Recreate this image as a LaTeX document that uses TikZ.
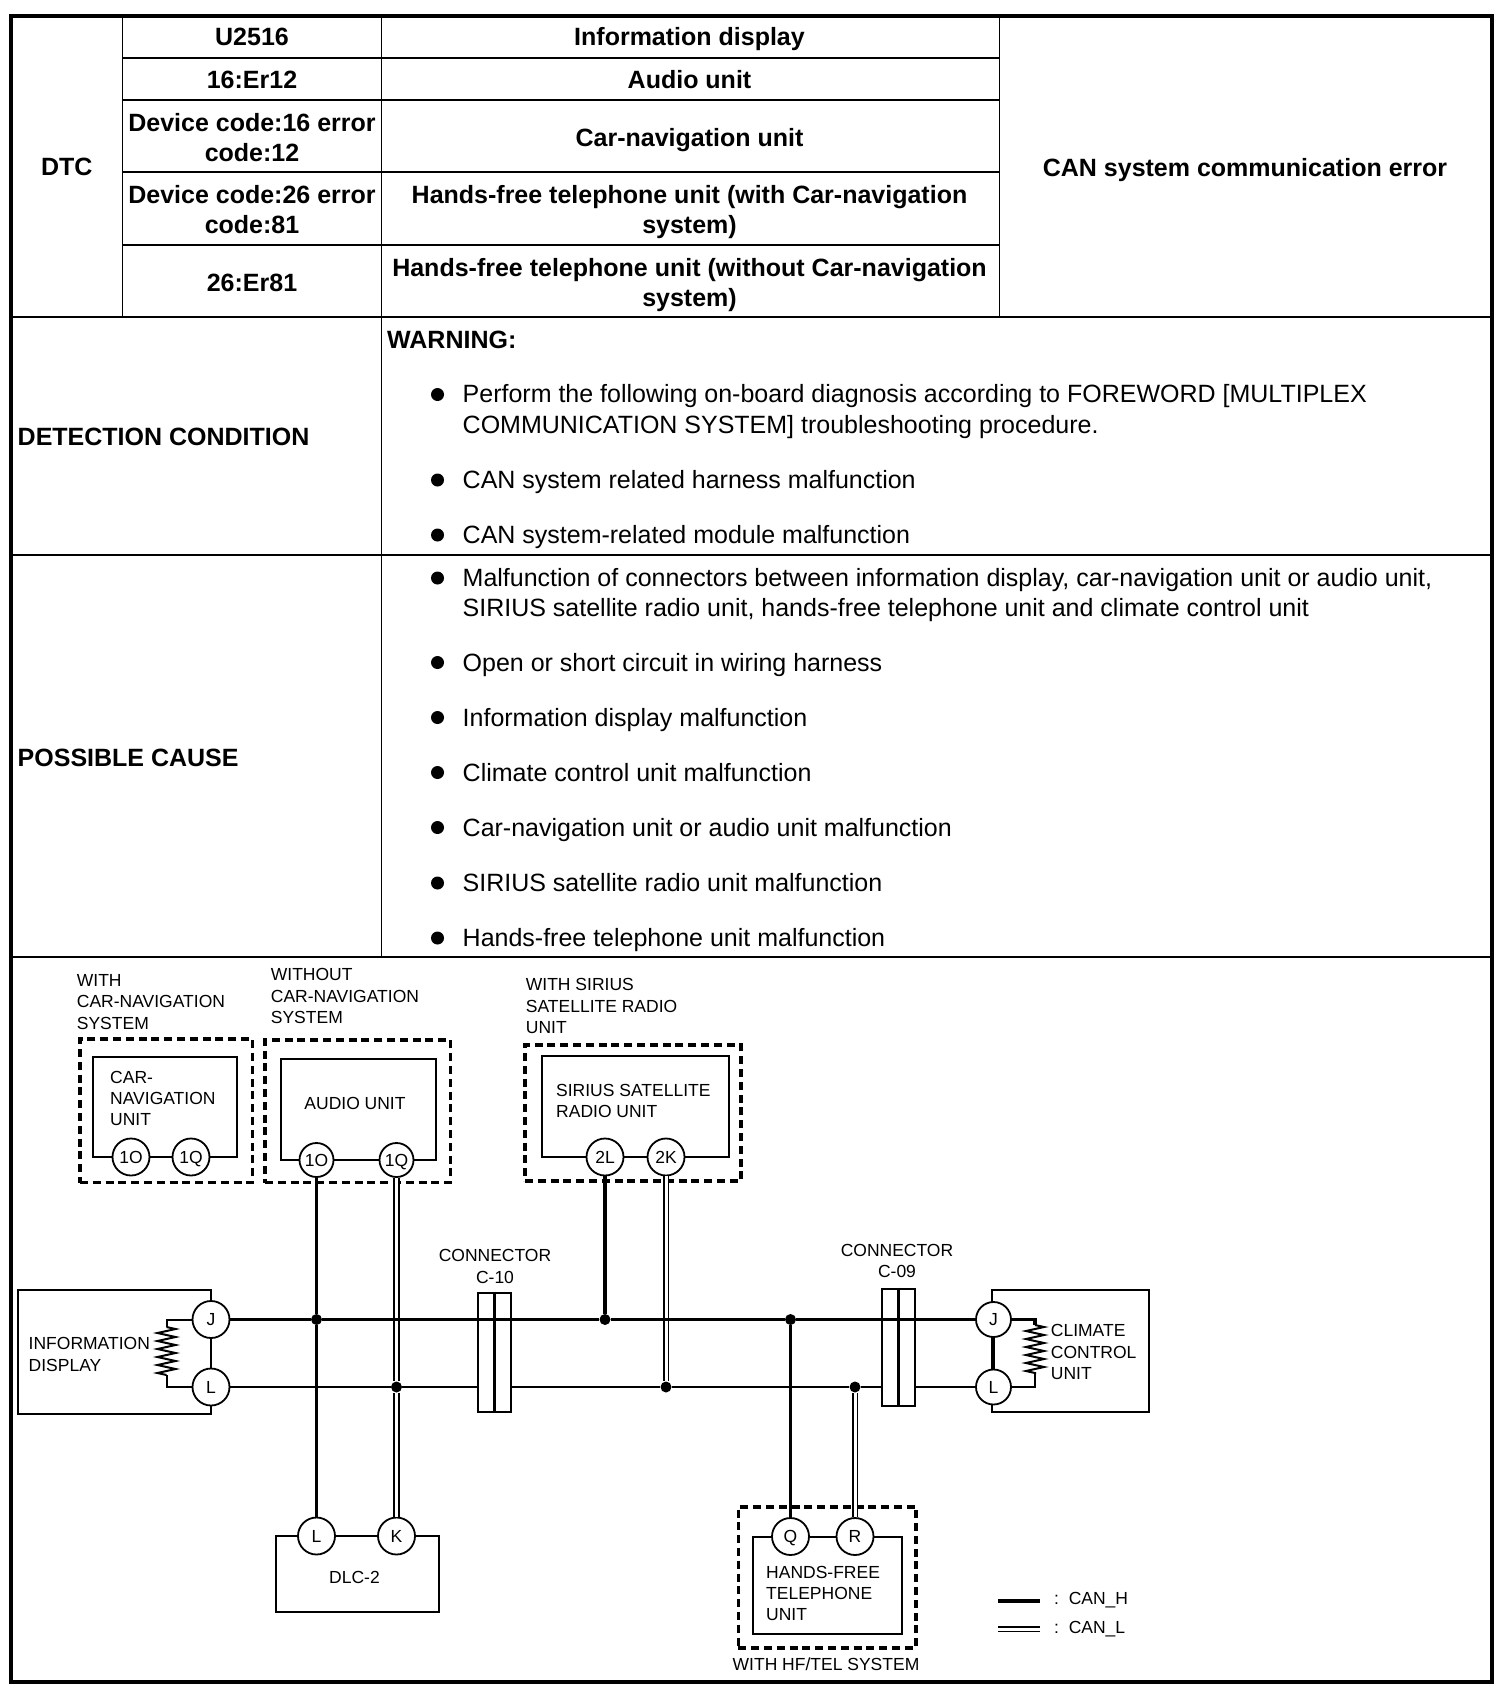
\documentclass[tikz,border=0pt]{standalone}
\usepackage{fontspec}
\setmainfont{Liberation Sans}
\usetikzlibrary{decorations.pathmorphing}

\tikzset{
	cell/.style={inner sep=0pt,font=\fontsize{25}{30}\selectfont\bfseries,align=center},
	oneline/.style={text height=17.5pt,text depth=0pt},
	oneshort/.style={text height=12.5pt,text depth=0pt},
	head/.style={inner sep=0pt,font=\fontsize{25}{30}\selectfont\bfseries,anchor=west,oneline},
	item/.style={inner sep=0pt,font=\fontsize{25}{30.3}\selectfont,anchor=west,align=left},
	dot/.style={circle,fill,inner sep=0pt,minimum size=13pt},
	tag/.style={inner sep=0pt,font=\fontsize{17.5}{21.3}\selectfont,anchor=west,align=left},
	tagc/.style={inner sep=0pt,font=\fontsize{17.5}{21.3}\selectfont,align=center},
	pin/.style={circle,draw,line width=1.8pt,fill=white,minimum size=37pt,inner sep=0pt,font=\fontsize{17.5}{20}\selectfont,oneshort},
	joint/.style={circle,fill,inner sep=0pt,minimum size=11pt},
	unitbox/.style={draw,line width=2pt},
	dashbox/.style={draw,line width=3.6pt,dash pattern=on 8pt off 4.8pt},
	canh/.style={line width=3.6pt},
	canl/.style={line width=1.8pt,double,double distance=3pt},
	thin wire/.style={line width=2pt},
	plug/.style={rectangle,draw,fill=white,line width=2.6pt,inner sep=0pt,minimum width=33pt},
	resistor/.style={line width=2pt,decorate,decoration={zigzag,segment length=8pt,amplitude=9pt}}
}

\begin{document}
\begin{tikzpicture}[x=1pt,y=-1pt]
	\useasboundingbox (0,0) rectangle (1502,1694);

	% table rules
	\draw[line width=1.5pt] (122.5,16) -- (122.5,317);
	\draw[line width=1.5pt] (381.5,16) -- (381.5,957);
	\draw[line width=1.5pt] (999.5,16) -- (999.5,317);
	\draw[line width=1.5pt] (122.5,58) -- (999.5,58);
	\draw[line width=1.5pt] (122.5,100) -- (999.5,100);
	\draw[line width=1.5pt] (122.5,172) -- (999.5,172);
	\draw[line width=1.5pt] (122.5,245) -- (999.5,245);
	\draw[line width=1.5pt] (11,317) -- (1491.5,317);
	\draw[line width=1.5pt] (11,555) -- (1491.5,555);
	\draw[line width=1.5pt] (11,957) -- (1491.5,957);
	\draw[line width=4pt] (11,16) rectangle (1491.5,1682);

	\node[cell,oneline] (dtc) at (66.7,167) {DTC};
	\node[cell,oneline] (code1) at (252,37) {U2516};
	\node[cell,oneline] (code2) at (252,80) {16:Er12};
	\node[cell] (code3) at (252,137.5) {Device code:16 error\\code:12};
	\node[cell] (code4) at (252,209.5) {Device code:26 error\\code:81};
	\node[cell,oneline] (code5) at (252,283) {26:Er81};
	\node[cell,oneline] (unit1) at (689.5,37) {Information display};
	\node[cell,oneline] (unit2) at (689.5,80) {Audio unit};
	\node[cell,oneline] (unit3) at (689.5,137.5) {Car-navigation unit};
	\node[cell] (unit4) at (689.5,212) {Hands-free telephone unit (with Car-navigation\\system)};
	\node[cell] (unit5) at (689.5,285) {Hands-free telephone unit (without Car-navigation\\system)};
	\node[cell,oneline] (error) at (1245,167.5) {CAN system communication error};

	\node[head] (detect) at (17.5,437) {DETECTION CONDITION};
	\node[head] (cause) at (17.5,757.5) {POSSIBLE CAUSE};
	\node[head] (warn) at (387,339.5) {WARNING:};

	\foreach \ypos/\dotpos/\txt [count=\i] in {
		411.5/394.5/{Perform the following on-board diagnosis according to FOREWORD [MULTIPLEX\\COMMUNICATION SYSTEM] troubleshooting procedure.},
		595/578/{Malfunction of connectors between information display, car-navigation unit or audio unit,\\SIRIUS satellite radio unit, hands-free telephone unit and climate control unit}}{
		\node[dot] (bullet\i) at (437.5,\dotpos) {};
		\node[item] (item\i) at (462.5,\ypos) {\txt};
	}
	\foreach \ypos/\txt [count=\i from 3] in {
		480/{CAN system related harness malfunction},
		535/{CAN system-related module malfunction},
		662.5/{Open or short circuit in wiring harness},
		717.5/{Information display malfunction},
		772.5/{Climate control unit malfunction},
		827.5/{Car-navigation unit or audio unit malfunction},
		883/{SIRIUS satellite radio unit malfunction},
		938/{Hands-free telephone unit malfunction}}{
		\node[dot] (bullet\i) at (437.5,\ypos) {};
		\node[item,oneline] (item\i) at (462.5,\ypos) {\txt};
	}

	% top units
	\node[dashbox,minimum width=172.7pt,minimum height=143.7pt] (navdash) at (166.3,1110.8) {};
	\node[dashbox,minimum width=185.7pt,minimum height=142.7pt] (auddash) at (357.8,1111.3) {};
	\node[dashbox,minimum width=216pt,minimum height=136pt] (sirdash) at (633,1113) {};
	\node[unitbox,minimum width=144pt,minimum height=100pt] (navbox) at (165.3,1107) {};
	\node[unitbox,minimum width=154.7pt,minimum height=101pt] (audbox) at (358.3,1109.5) {};
	\node[unitbox,minimum width=187pt,minimum height=101pt] (sirbox) at (635.8,1106.2) {};

	\node[tag] (navnote) at (76.7,1002) {WITH\\CAR-NAVIGATION\\SYSTEM};
	\node[tag] (audnote) at (270.7,996) {WITHOUT\\CAR-NAVIGATION\\SYSTEM};
	\node[tag] (sirnote) at (525.7,1006) {WITH SIRIUS\\SATELLITE RADIO\\UNIT};
	\node[tag] (navtxt) at (110,1098.5) {CAR-\\NAVIGATION\\UNIT};
	\node[tagc,oneshort] (audtxt) at (355,1103) {AUDIO UNIT};
	\node[tag] (sirtxt) at (556,1101) {SIRIUS SATELLITE\\RADIO UNIT};

	\node[pin] (nav1O) at (131,1157) {1O};
	\node[pin] (nav1Q) at (191,1157) {1Q};
	\node[pin,minimum size=34pt] (aud1O) at (316.5,1160) {1O};
	\node[pin,minimum size=34pt] (aud1Q) at (396.5,1160) {1Q};
	\node[pin] (sir2L) at (605,1157) {2L};
	\node[pin] (sir2K) at (666,1157) {2K};

	% information display
	\node[unitbox,minimum width=193.5pt,minimum height=124pt] (infobox) at (114.3,1352) {};
	\node[tag] (infotxt) at (28.5,1354.5) {INFORMATION\\DISPLAY};
	\node[pin] (infoJ) at (211,1319.5) {J};
	\node[pin] (infoL) at (211,1387) {L};
	\coordinate (infotop) at (166.5,1327);
	\coordinate (infobot) at (166.5,1375);
	\draw[thin wire] (infoJ) -- (infoL);
	\draw[thin wire] (infoJ) -| (infotop);
	\draw[resistor] (infotop) -- (infobot);
	\draw[thin wire] (infobot) |- (infoL);

	% climate control unit
	\node[unitbox,minimum width=156.7pt,minimum height=121.7pt] (climbox) at (1070.7,1350.8) {};
	\node[tag] (climtxt) at (1050.7,1352) {CLIMATE\\CONTROL\\UNIT};
	\node[pin,minimum size=35pt] (climJ) at (993.5,1319.5) {J};
	\node[pin,minimum size=35pt] (climL) at (993.5,1387) {L};
	\coordinate (climtop) at (1035,1325);
	\coordinate (climbot) at (1035,1374);
	\draw[thin wire] (climJ) -- (climL);
	\draw[canh] (climJ) -| (climtop);
	\draw[resistor] (climtop) -- (climbot);
	\draw[thin wire] (climbot) |- (climL);

	% bottom units
	\node[unitbox,minimum width=163pt,minimum height=76pt] (dlcbox) at (357,1574) {};
	\node[tagc,oneshort] (dlctxt) at (354.5,1577.5) {DLC-2};
	\node[pin] (dlcL) at (316.5,1536) {L};
	\node[pin] (dlcK) at (396.5,1536) {K};

	\node[dashbox,minimum width=177.7pt,minimum height=141pt] (teldash) at (827.2,1577.2) {};
	\node[unitbox,minimum width=149pt,minimum height=97.6pt] (telbox) at (827.8,1585.5) {};
	\node[tag] (teltxt) at (766,1593.5) {HANDS-FREE\\TELEPHONE\\UNIT};
	\node[tagc,oneshort] (telnote) at (826,1664) {WITH HF/TEL SYSTEM};
	\node[pin] (telQ) at (790.5,1536.5) {Q};
	\node[pin] (telR) at (855,1536.5) {R};

	% connectors
	\node[tagc] (c10txt) at (495,1266.5) {CONNECTOR\\C-10};
	\node[tagc] (c09txt) at (897,1261) {CONNECTOR\\C-09};
	\node[plug,minimum height=119pt] (c10) at (494.6,1352.5) {};
	\node[plug,minimum height=117pt] (c09) at (898.5,1347.5) {};
	\draw[line width=2.6pt] (c10.north) -- (c10.south);
	\draw[line width=2.6pt] (c09.north) -- (c09.south);

	% joints
	\node[joint] (h1) at (316.5,1319.5) {};
	\node[joint] (h2) at (605,1319.5) {};
	\node[joint] (h3) at (790.5,1319.5) {};
	\node[joint] (l1) at (396.5,1387) {};
	\node[joint] (l2) at (666,1387) {};
	\node[joint] (l3) at (855,1387) {};

	% wires
	\draw[canl] (aud1Q) -- (l1);
	\draw[canl] (l1) -- (dlcK);
	\draw[canl] (sir2K) -- (l2);
	\draw[canl] (telR) -- (l3);
	\draw[canh] (aud1O) -- (h1);
	\draw[canh] (h1) -- (dlcL);
	\draw[canh] (sir2L) -- (h2);
	\draw[canh] (telQ) -- (h3);
	\draw[thin wire] (infoL) -- (l1) -- (l1 -| c10.west);
	\draw[thin wire] (l1 -| c10.east) -- (l2) -- (l3) -- (l3 -| c09.west);
	\draw[thin wire] (l3 -| c09.east) -- (climL);
	\draw[canh] (infoJ) -- (h1) -- (h2) -- (h3) -- (climJ);

	% legend
	\coordinate (keyHa) at (998,1601);
	\coordinate (keyHb) at (1040,1601);
	\coordinate (keyLa) at (998,1629);
	\coordinate (keyLb) at (1040,1629);
	\draw[canh] (keyHa) -- (keyHb);
	\draw[canl] (keyLa) -- (keyLb);
	\node[tag,oneshort] (keyH) at (1054,1598.5) {:\ \ CAN\_H};
	\node[tag,oneshort] (keyL) at (1054,1627) {:\ \ CAN\_L};

\end{tikzpicture}
\end{document}
